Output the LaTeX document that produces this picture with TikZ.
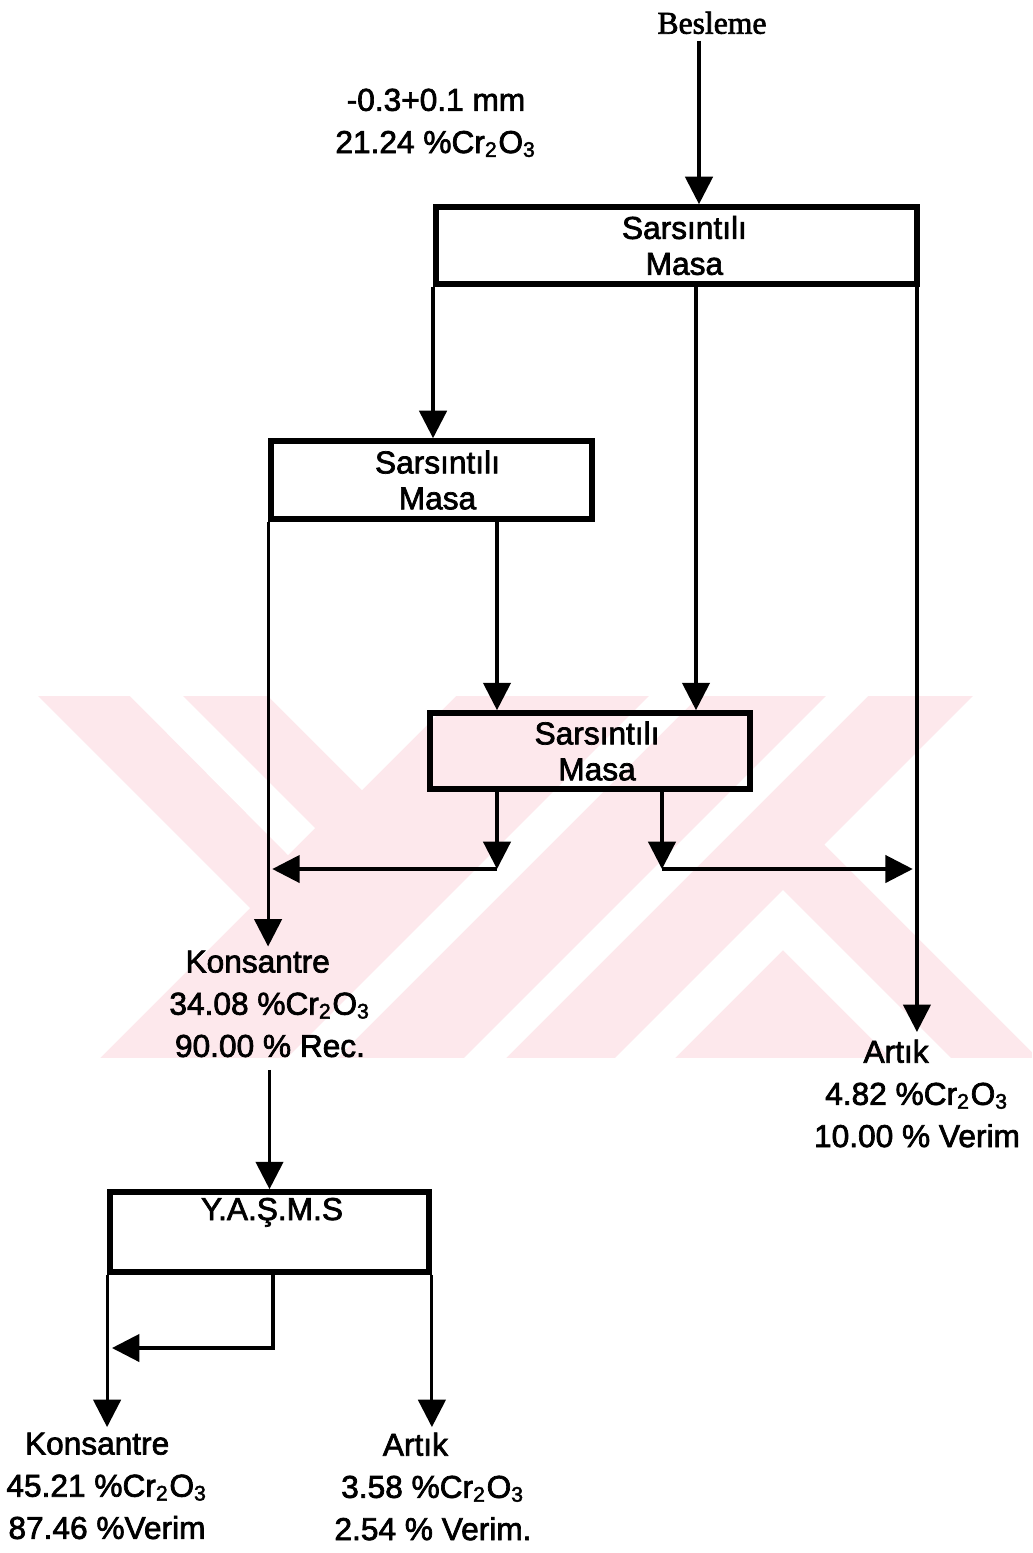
\documentclass[tikz,border=0pt]{standalone}
\usepackage{fontspec}
\setmainfont{Liberation Sans}[FakeBold=2.2]
\newfontfamily\beslemefont{Liberation Serif}[FakeBold=2.2]
\usetikzlibrary{calc}
\usetikzlibrary{arrows.meta}
\definecolor{wmpink}{RGB}{253,232,236}

\begin{document}
\begin{tikzpicture}[
      x=0.01cm, y=-0.01cm, >={Triangle[length=7.8pt, width=7.8pt]},
      masa/.style={draw, line width=1.6pt, inner sep=0pt, align=center,
        font=\fontsize{9}{10.2}\selectfont},
      flow/.style={->, line width=0.9pt},
      lbl/.style={align=center, inner sep=0pt, anchor=north,
        font=\fontsize{9}{12}\selectfont}]

  \useasboundingbox (0,0) rectangle (1032,1553);

  % watermark
  \begin{scope}
    \clip (0,696) rectangle (1032,1058);
    \fill[wmpink] (0,696) rectangle (1032,1058);
    \fill[white] (-10,696) -- (38,696) -- (250,908) -- (100,1058) -- (-10,1058) -- cycle;
    \fill[white] (130,696) -- (183,696) -- (315,828) -- (288,855) -- cycle;
    \fill[white] (268,696) -- (456,696) -- (362,790) -- cycle;
    \fill[white] (649,696) -- (699,696) -- (337,1058) -- (287,1058) -- cycle;
    \fill[white] (826,696) -- (868,696) -- (506,1058) -- (464,1058) -- cycle;
    \fill[white] (973,696) -- (1100,696) -- (1100,1120) -- (824.5,844.5) -- cycle;
    \fill[white] (615,1058) -- (783,890) -- (951,1058) -- (891,1058) -- (783,950) -- (675,1058) -- cycle;
  \end{scope}

  % tables
  \node[masa, minimum width=4.81cm, minimum height=0.77cm] (sm1) at (676.5,245.5) {\rule{4.5pt}{0pt}Sarsıntılı\\\rule{4.5pt}{0pt}Masa};
  \node[masa, minimum width=3.21cm, minimum height=0.78cm] (sm2) at (431.5,480) {\rule{3.4pt}{0pt}Sarsıntılı\\\rule{3.4pt}{0pt}Masa};
  \node[masa, minimum width=3.20cm, minimum height=0.76cm] (sm3) at (590,751) {\rule{4pt}{0pt}Sarsıntılı\\\rule{4pt}{0pt}Masa};
  \node[masa, minimum width=3.19cm, minimum height=0.80cm] (yasms) at (269.5,1232) {};
  \node[inner sep=0pt, anchor=base, font=\fontsize{9}{10.2}\selectfont] (yasmsl) at (272,1220) {Y.A.Ş.M.S};

  % labels
  \node[inner sep=0pt, anchor=north, font=\beslemefont\fontsize{9}{11}\selectfont] (besleme) at (712,11) {Besleme};
  \node[lbl] (feed) at (436,88) {-0.3+0.1 mm\\21.24 \%Cr\textsubscript{2}O\textsubscript{3}};
  \node[lbl] (kons1) at (270,950) {Konsantre\rule{7pt}{0pt}\\34.08 \%Cr\textsubscript{2}O\textsubscript{3}\\90.00 \% Rec.};
  \node[lbl] (art1) at (917,1039) {Artık\rule{11.9pt}{0pt}\\4.82 \%Cr\textsubscript{2}O\textsubscript{3}\\10.00 \% Verim};
  \node[lbl] (kons2) at (107,1432) {Konsantre\rule{5.6pt}{0pt}\\45.21 \%Cr\textsubscript{2}O\textsubscript{3}\\87.46 \%Verim};
  \node[lbl] (art2) at (433,1432) {Artık\rule{10pt}{0pt}\\3.58 \%Cr\textsubscript{2}O\textsubscript{3}\\2.54 \% Verim.};

  % split points
  \path (besleme.south) ++(-13,6) coordinate (b0);
  \path (sm1.south) ++(19.5,0) coordinate (s1m);
  \path (sm1.south east) ++(-3,0) coordinate (s1r);
  \path (sm2.south) ++(65.5,0) coordinate (s2r);
  \path (sm3.south) ++(-93,0) coordinate (s3l);
  \path (sm3.south) ++(72,0) coordinate (s3r);
  \path (yasms.south) ++(3.5,0) coordinate (s4m);
  \coordinate (j1) at (497,869);
  \coordinate (j2) at (662,869);
  \coordinate (j3) at (273,1348);

  % flows
  \draw[flow] (b0) -- (b0 |- sm1.north);
  \draw[flow] (sm1.south west) -- (sm1.south west |- sm2.north);
  \draw[flow] (s1m) -- (s1m |- sm3.north);
  \draw[flow, shorten >=2pt] (s1r) -- (s1r |- art1.north);
  \draw[flow, shorten >=1pt] (sm2.south west) -- (sm2.south west |- kons1.north);
  \draw[flow] (s2r) -- (s2r |- sm3.north);
  \draw[flow] (s3l) -- (j1);
  \draw[flow, shorten >=1.2pt] (j1) -- (j1 -| sm2.south west);
  \draw[flow] (s3r) -- (j2);
  \draw[flow, shorten >=1.2pt] (j2) -- (j2 -| s1r);
  \draw[flow, shorten <=3.4pt] (kons1.south -| yasms.north) -- (yasms.north);
  \draw[flow, shorten >=1.4pt] (yasms.south west) -- (yasms.south west |- kons2.north);
  \draw[flow, shorten >=1.4pt] (yasms.south east) -- (yasms.south east |- art2.north);
  \draw[flow, shorten >=1.4pt] (s4m) -- (j3) -- (j3 -| yasms.south west);
\end{tikzpicture}
\end{document}
